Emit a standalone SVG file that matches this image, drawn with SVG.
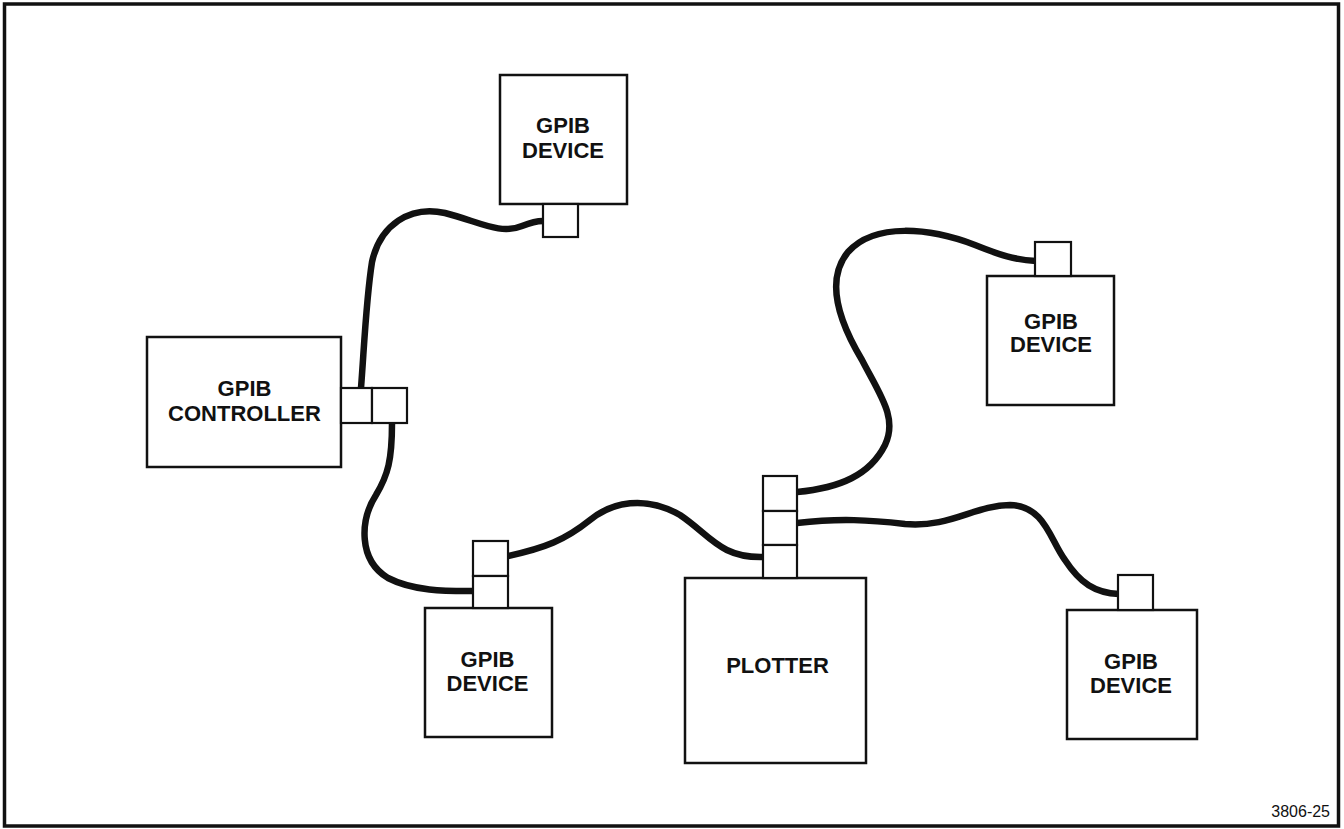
<svg xmlns="http://www.w3.org/2000/svg" width="1344" height="829" viewBox="0 0 1344 829">
<style>
.box{fill:#fff;stroke:#111;stroke-width:2.5}
.port{fill:#fff;stroke:#111;stroke-width:2.2}
.cable{fill:none;stroke:#111;stroke-width:6.5;stroke-linecap:butt;stroke-linejoin:round}
.lbl{font-family:"Liberation Sans",Arial,sans-serif;font-weight:bold;font-size:22px;fill:#111;text-anchor:middle}
.fig{font-family:"Liberation Sans",Arial,sans-serif;font-size:16px;fill:#111;text-anchor:end}
</style>
<rect x="4.5" y="4" width="1334" height="822" fill="#fff" stroke="#111" stroke-width="3.5"/>
<g id="connectors">
<path class="cable" d="M361,388 C364,350 366,300 372,262 C380,225 410,205 445,213 C480,222 500,235 522,226 C532,222 538,221 543,221"/>
<path class="cable" d="M392,423 C392,460 388,475 376,495 C360,520 358,560 388,578 C415,592 450,591 474,591"/>
<path class="cable" d="M508,556 C545,548 565,540 590,520 C612,502 645,495 680,515 C710,535 720,558 763,557"/>
<path class="cable" d="M797,492 C840,488 870,475 885,445 C898,418 880,395 862,360 C838,320 825,280 848,252 C875,222 930,228 975,245 C1000,255 1015,260 1036,261"/>
<path class="cable" d="M797,523 C840,518 870,520 905,524 C950,528 975,505 1010,505 C1045,506 1050,540 1065,560 C1080,583 1095,593 1119,594"/>
</g>
<g id="controller">
<rect class="box" x="147" y="337" width="194" height="130"/>
<rect class="port" x="341" y="388" width="31" height="35"/>
<rect class="port" x="372" y="388" width="35" height="35"/>
<text class="lbl" x="244.5" y="396">GPIB</text>
<text class="lbl" x="244.5" y="421">CONTROLLER</text>
</g>
<g id="device-top">
<rect class="box" x="500" y="75" width="127" height="129"/>
<rect class="port" x="543" y="204" width="35" height="33"/>
<text class="lbl" x="563" y="133">GPIB</text>
<text class="lbl" x="563" y="158">DEVICE</text>
</g>
<g id="device-bottom-left">
<rect class="box" x="425" y="608" width="127" height="129"/>
<rect class="port" x="473" y="541" width="35" height="35"/>
<rect class="port" x="473" y="576" width="35" height="32"/>
<text class="lbl" x="487.5" y="667">GPIB</text>
<text class="lbl" x="487.5" y="691">DEVICE</text>
</g>
<g id="plotter">
<rect class="box" x="685" y="578" width="181" height="185"/>
<rect class="port" x="763" y="476" width="34" height="35"/>
<rect class="port" x="763" y="511" width="34" height="34"/>
<rect class="port" x="763" y="545" width="34" height="33"/>
<text class="lbl" x="777.5" y="673">PLOTTER</text>
</g>
<g id="device-right">
<rect class="box" x="987" y="276" width="127" height="129"/>
<rect class="port" x="1035" y="242" width="36" height="34"/>
<text class="lbl" x="1051" y="329">GPIB</text>
<text class="lbl" x="1051" y="352">DEVICE</text>
</g>
<g id="device-bottom-right">
<rect class="box" x="1067" y="610" width="130" height="129"/>
<rect class="port" x="1118" y="575" width="35" height="35"/>
<text class="lbl" x="1131" y="669">GPIB</text>
<text class="lbl" x="1131" y="693">DEVICE</text>
</g>
<text class="fig" x="1330" y="817">3806-25</text>
</svg>
